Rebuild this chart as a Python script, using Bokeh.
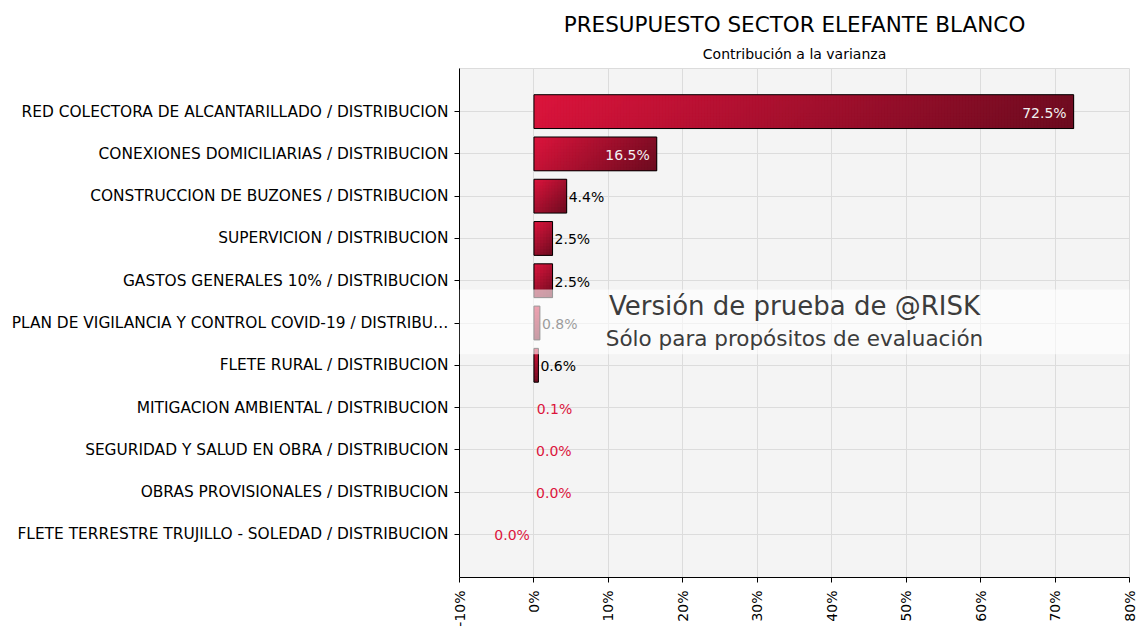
import math
from bokeh.plotting import figure
from bokeh.models import (Range1d, FixedTicker, BoxAnnotation, Label, Title)
from bokeh.core.properties import value
from bokeh.embed import file_html
from bokeh.resources import INLINE

categories = [
    "RED COLECTORA DE ALCANTARILLADO / DISTRIBUCION",
    "CONEXIONES DOMICILIARIAS / DISTRIBUCION",
    "CONSTRUCCION DE BUZONES / DISTRIBUCION",
    "SUPERVICION / DISTRIBUCION",
    "GASTOS GENERALES 10% / DISTRIBUCION",
    "PLAN DE VIGILANCIA Y CONTROL COVID-19 / DISTRIBU\u2026",
    "FLETE RURAL / DISTRIBUCION",
    "MITIGACION AMBIENTAL / DISTRIBUCION",
    "SEGURIDAD Y SALUD EN OBRA / DISTRIBUCION",
    "OBRAS PROVISIONALES / DISTRIBUCION",
    "FLETE TERRESTRE TRUJILLO - SOLEDAD / DISTRIBUCION",
]
contributions = [72.5, 16.5, 4.4, 2.5, 2.5, 0.8, 0.6, 0.1, 0.02, 0.01, -0.01]
x_ticks = [-10, 0, 10, 20, 30, 40, 50, 60, 70, 80]

FONT = "DejaVu Sans"
CRIMSON = (220, 20, 60)
DARK = (107, 11, 31)

p = figure(width=1142, height=630, output_backend="svg", toolbar_location=None,
           x_range=Range1d(-10, 80), y_range=Range1d(11.02, -1.02),
           min_border_left=459, min_border_right=13, min_border_bottom=53,
           min_border_top=68)
p.background_fill_color = "#F4F4F4"
p.border_fill_color = "white"
p.outline_line_color = "#DCDCDC"

sub = Title(text="Contribución a la varianza", align="center",
            text_font=FONT, text_font_size="14px", text_font_style="normal",
            text_color="black", standoff=14)
ttl = Title(text="PRESUPUESTO SECTOR ELEFANTE BLANCO", align="center",
            text_font=FONT, text_font_size="21.5px", text_font_style="normal",
            text_color="black", standoff=0)
p.add_layout(sub, "above")
p.add_layout(ttl, "above")

# gradient cells (~3 px each, overlapping so no seams show)
n = len(categories)
bar_h = 0.8
PX_X = 670 / 90.0      # pixels per percent (styling only)
PX_H = bar_h * 42.3    # bar height in pixels (styling only)
L, R, T, B, C = [], [], [], [], []
def mix(t):
    return "#%02x%02x%02x" % tuple(int(round(a + (b - a) * t)) for a, b in zip(CRIMSON, DARK))
for i, v in enumerate(contributions):
    if abs(v) < 0.5:
        continue
    x0, x1 = min(0, v), max(0, v)
    y0 = i - bar_h / 2
    W = abs(v) * PX_X
    nu = max(1, int(round(W / 3)))
    nv = max(1, int(round(PX_H / 3)))
    for a in range(nu):
        for b in range(nv):
            uc = (a + 0.5) / nu
            vc = (b + 0.5) / nv
            L.append(x0 + (x1 - x0) * a / nu)
            R.append(x0 + (x1 - x0) * min(a + 2, nu) / nu)
            T.append(y0 + bar_h * b / nv)
            B.append(y0 + bar_h * min(b + 2, nv) / nv)
            C.append(mix((uc * W + vc * PX_H) / (W + PX_H)))
p.quad(left=L, right=R, top=T, bottom=B, fill_color=C, line_color=None)

drawn = [i for i, v in enumerate(contributions) if abs(v) >= 0.5]
p.hbar(y=drawn, right=[contributions[i] for i in drawn], left=0, height=bar_h,
       fill_alpha=0, line_color="black", line_width=1)

# value labels
for i, v in enumerate(contributions):
    txt = "%.1f%%" % (round(v, 1) + 0.0)
    txt = txt.replace("-", "")
    if v >= 10:
        col, align, off = "#F2F2F2", "right", -7
    elif v >= 0.5:
        col, align, off = "black", "left", 2
    elif v >= 0:
        col, align, off = "#DC143C", "left", 2
    else:
        col, align, off = "#DC143C", "right", -4
    p.text(x=[v], y=[i], text=[txt], text_align=align, text_baseline="middle",
           x_offset=off, y_offset=1, text_color=col, text_font=value(FONT),
           text_font_size="14px")

# watermark band
band = BoxAnnotation(top=4.21, bottom=5.74, fill_color="white", fill_alpha=0.6,
                     line_alpha=0)
p.add_layout(band)
p.add_layout(Label(x=35, y=4.59, text="Versión de prueba de @RISK", text_align="center",
                   text_baseline="middle", text_font=FONT, text_font_size="26px",
                   text_color="#3C3C3C"))
p.add_layout(Label(x=35, y=5.37, text="Sólo para propósitos de evaluación", text_align="center",
                   text_baseline="middle", text_font=FONT, text_font_size="21.5px",
                   text_color="#3C3C3C"))

# axes
p.xaxis.ticker = FixedTicker(ticks=x_ticks)
p.xaxis.major_label_overrides = {t: "%d%%" % t for t in x_ticks}
p.xaxis.major_label_orientation = math.pi / 2
p.xaxis.minor_tick_line_color = None
p.xaxis.major_tick_out = 5
p.xaxis.major_tick_in = 0
p.xaxis.major_label_standoff = 8
p.xaxis.major_label_text_font_size = "14px"
p.yaxis.ticker = FixedTicker(ticks=list(range(n)))
p.yaxis.major_label_overrides = {i: c for i, c in enumerate(categories)}
p.yaxis.minor_tick_line_color = None
p.yaxis.major_tick_out = 5
p.yaxis.major_tick_in = 0
p.yaxis.major_label_standoff = 6
p.yaxis.major_label_text_font_size = "15.4px"
for ax in (p.xaxis, p.yaxis):
    ax.axis_line_color = "black"
    ax.major_tick_line_color = "black"
    ax.major_label_text_font = FONT
    ax.major_label_text_color = "black"
p.xgrid.ticker = FixedTicker(ticks=x_ticks)
p.xgrid.grid_line_color = "#DCDCDC"
p.ygrid.ticker = FixedTicker(ticks=list(range(n)))
p.ygrid.grid_line_color = "#DCDCDC"

open("out.html", "w").write(file_html(p, INLINE))
